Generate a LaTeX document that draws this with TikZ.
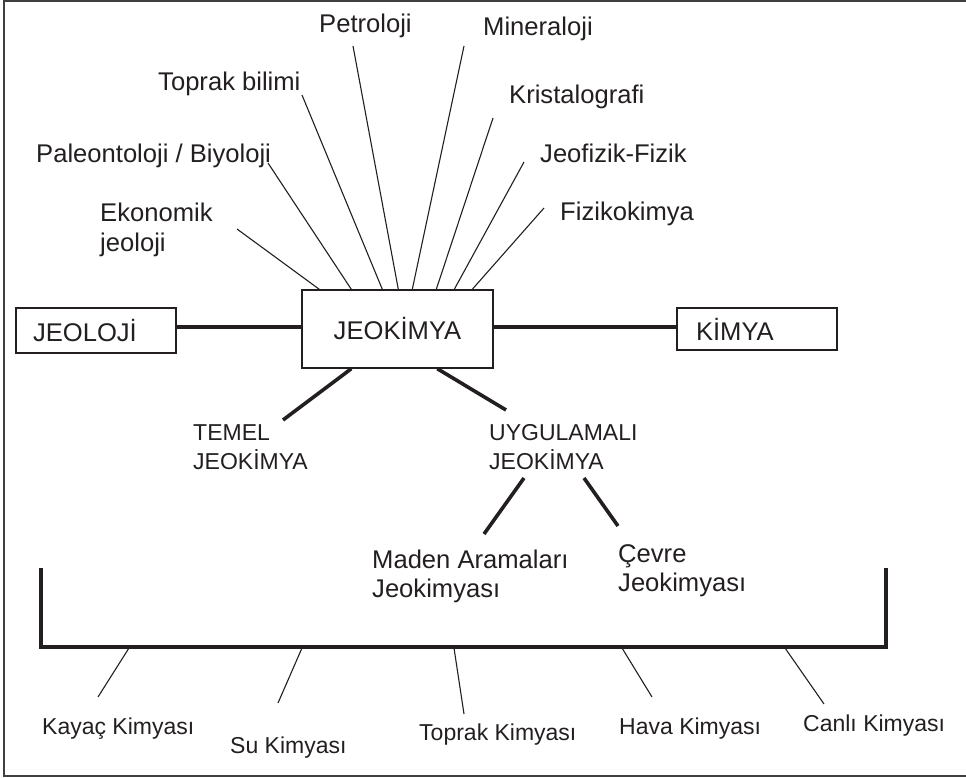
\documentclass[tikz,border=0pt]{standalone}
\usepackage{fontspec}
\setmainfont{Liberation Sans}
\usetikzlibrary{calc}
\definecolor{ink}{HTML}{231F20}
\newcommand{\twolines}[2]{\vtop{\hbox{#1}\hbox{#2}}}
\begin{document}
\begin{tikzpicture}[x=1pt,y=-1pt,
  bigtxt/.style={font=\fontsize{25.6}{29}\selectfont, text=ink, inner sep=0pt, anchor=base west},
  smalltxt/.style={font=\fontsize{23}{29}\selectfont, text=ink, inner sep=0pt, anchor=base west},
  boxnode/.style={draw=ink, line width=1.4pt, font=\fontsize{25.6}{29}\selectfont, text=ink, align=left},
  thinline/.style={draw=ink, line width=1.1pt},
  thickline/.style={draw=ink, line width=3.6pt},
  frameline/.style={draw=black!75, line width=1.3pt}]
\useasboundingbox (0,0) rectangle (966,778);
% frame (open on the right)
\draw[frameline] (966,1) -- (4,1) -- (4,776) -- (966,776);

% boxes
\node[boxnode, minimum width=191pt, minimum height=78pt, align=center] (jeokimya) at (397.5,329) {JEOKİMYA};
\node[boxnode, inner xsep=17pt, text width=126pt, minimum height=45pt, anchor=center] (jeoloji) at (96,330.5) {JEOLOJİ};
\node[boxnode, inner xsep=19pt, text width=122pt, minimum height=42pt, anchor=center] (kimya) at (757,329) {KİMYA};

\draw[thickline] ([yshift=2pt]jeoloji.east |- jeokimya.west) -- ([yshift=2pt]jeokimya.west);
\draw[thickline] ([yshift=2pt]jeokimya.east) -- ([yshift=2pt]kimya.west |- jeokimya.east);

% upper labels
\node[bigtxt] (petro) at (319,33) {Petroloji};
\node[bigtxt] (miner) at (483,36) {Mineraloji};
\node[bigtxt] (toprakb) at (158,91) {Toprak bilimi};
\node[bigtxt] (krist) at (509,104) {Kristalografi};
\node[bigtxt] (paleo) at (36,163) {Paleontoloji / Biyoloji};
\node[bigtxt] (jeofiz) at (540,163) {Jeofizik-Fizik};
\node[bigtxt] (fiziko) at (560,221) {Fizikokimya};
\node[bigtxt] (ekon) at (100,222) {\twolines{Ekonomik}{jeoloji}};

\coordinate (cEkon) at (237,229);
\coordinate (cPaleo) at (268,163);
\coordinate (cToprakb) at (302,95);
\coordinate (cPetro) at (353,46);
\coordinate (cMiner) at (464,46);
\coordinate (cKrist) at (493,118);
\coordinate (cJeofiz) at (524,162);
\coordinate (cFiziko) at (544,208);

\draw[thinline] (cEkon) -- ($(jeokimya.north west)+(18,0)$);
\draw[thinline] (cPaleo) -- ($(jeokimya.north west)+(50,0)$);
\draw[thinline] (cToprakb) -- ($(jeokimya.north west)+(81,0)$);
\draw[thinline] (cPetro) -- ($(jeokimya.north west)+(97,0)$);
\draw[thinline] (cMiner) -- ($(jeokimya.north west)+(111,0)$);
\draw[thinline] (cKrist) -- ($(jeokimya.north west)+(135,0)$);
\draw[thinline] (cJeofiz) -- ($(jeokimya.north west)+(153,0)$);
\draw[thinline] (cFiziko) -- ($(jeokimya.north west)+(171,0)$);

% lower branches
\node[smalltxt] (temel) at (193,440) {\twolines{TEMEL}{JEOKİMYA}};
\node[smalltxt] (uyg) at (489,440) {\twolines{UYGULAMALI}{JEOKİMYA}};
\coordinate (cTemel) at (283,420);
\coordinate (cUyg) at (506,410);
\draw[thickline] ($(jeokimya.south west)+(50,0)$) -- (cTemel);
\draw[thickline] ($(jeokimya.south west)+(136,0)$) -- (cUyg);

\node[bigtxt] (maden) at (372,568) {\twolines{Maden Aramaları}{Jeokimyası}};
\node[bigtxt] (cevre) at (618,562) {\twolines{Çevre}{Jeokimyası}};
\coordinate (uygL) at (524,478);
\coordinate (uygR) at (584,478);
\coordinate (cMaden) at (484,534);
\coordinate (cCevre) at (618,526);
\draw[thickline] (uygL) -- (cMaden);
\draw[thickline] (uygR) -- (cCevre);

% bracket
\coordinate (brTL) at (41,568);
\coordinate (brBL) at (41,647);
\coordinate (brBR) at (886,647);
\coordinate (brTR) at (886,568);
\draw[thickline, line join=miter] (brTL) -- (brBL) -- (brBR) -- (brTR);

% bottom labels
\node[smalltxt] (kayac) at (42,734) {Kayaç Kimyası};
\node[smalltxt] (su) at (230,753) {Su Kimyası};
\node[smalltxt] (toprakk) at (419,740) {Toprak Kimyası};
\node[smalltxt] (hava) at (619,734) {Hava Kimyası};
\node[smalltxt] (canli) at (803,731) {Canlı Kimyası};

\coordinate (bKayac) at (129,648);
\coordinate (bSu) at (302,648);
\coordinate (bToprak) at (454,648);
\coordinate (bHava) at (622,648);
\coordinate (bCanli) at (785,648);
\coordinate (eKayac) at (98,697);
\coordinate (eSu) at (278,703);
\coordinate (eToprak) at (464,714);
\coordinate (eHava) at (652,697);
\coordinate (eCanli) at (824,704);
\draw[thinline] (bKayac) -- (eKayac);
\draw[thinline] (bSu) -- (eSu);
\draw[thinline] (bToprak) -- (eToprak);
\draw[thinline] (bHava) -- (eHava);
\draw[thinline] (bCanli) -- (eCanli);
\end{tikzpicture}
\end{document}
